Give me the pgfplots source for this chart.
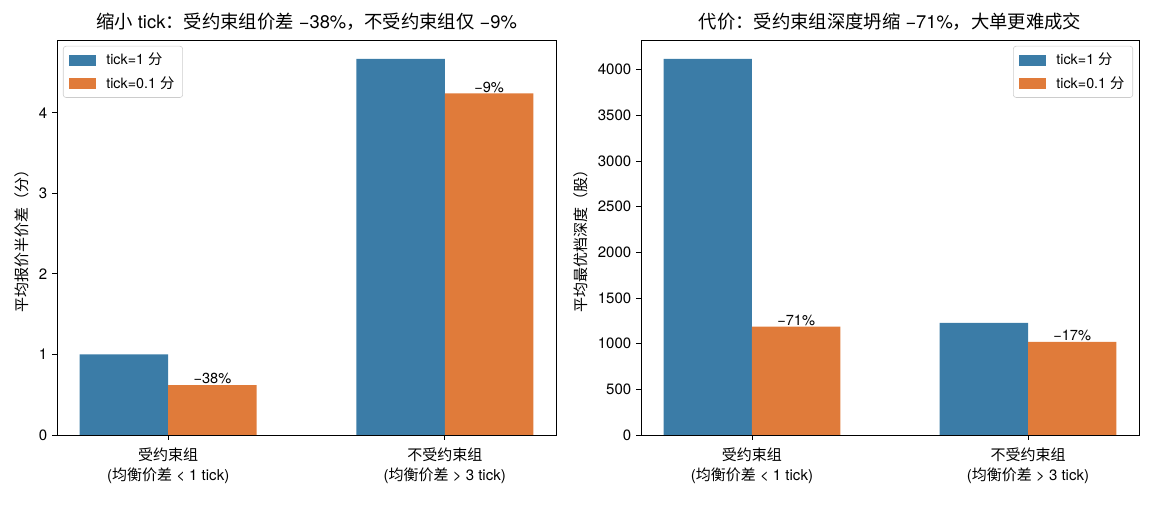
\documentclass[border=0pt]{standalone}
\usepackage{fontspec}
\setmainfont{TeX Gyre Heros}
\newfontfamily\cjk{Noto Sans CJK SC}
\usepackage{pgfplots}
\pgfplotsset{compat=1.18}
\definecolor{cblue}{HTML}{3B7CA7}
\definecolor{corange}{HTML}{E07B3A}
\pgfplotsset{
  common/.style={
    scale only axis, anchor=south west,
    height=284.4pt,
    xmin=-0.402, xmax=1.402, ymin=0,
    xtick={0,1},
    xticklabels={{{\cjk 受约束组}\\({\cjk 均衡价差} < 1 tick)},{{\cjk 不受约束组}\\({\cjk 均衡价差} > 3 tick)}},
    xticklabel style={align=center, font=\fontsize{10.8}{14.4}\selectfont, yshift=-2pt},
    yticklabel style={font=\fontsize{10.8}{12}\selectfont},
    /pgf/number format/assume math mode=true,
    /pgf/number format/1000 sep={},
    scaled y ticks=false,
    tick align=outside, xtick pos=lower, ytick pos=left,
    major tick length=3.5pt,
    every tick/.style={black, line width=0.65pt},
    axis line style={line width=0.65pt},
    title style={font=\fontsize{13.2}{15}\selectfont, yshift=-3pt},
    ylabel style={font=\fontsize{10.8}{12}\selectfont},
    legend style={draw=black!20, rounded corners=2pt, fill=white, font=\fontsize{10.3}{12}\selectfont,
      row sep=3pt, inner xsep=4pt, inner ysep=3pt, cells={anchor=west}},
    legend image code/.code={\fill[##1, sharp corners] (0pt,-4pt) rectangle (19.4pt,4pt); \path (25pt,0pt);},
    nodes near coords style={font=\fontsize{10.5}{12}\selectfont, anchor=south, inner sep=0.5pt, text=black},
  },
  bblue/.style={ybar, bar width=0.32, bar shift=0pt, fill=cblue, draw=none},
  borange/.style={ybar, bar width=0.32, bar shift=0pt, fill=corange, draw=none,
    nodes near coords, point meta=explicit symbolic},
}
\begin{document}
\begin{tikzpicture}
\useasboundingbox (0,0) rectangle (831.6pt,363.6pt);
\begin{axis}[common, at={(41.04pt,50.4pt)}, width=359.28pt,
  ymax=4.9035, ytick={0,1,2,3,4},
  title={{\cjk 缩小} tick{\cjk ：受约束组价差} −38\%{\cjk ，不受约束组仅} −9\%},
  ylabel={{\cjk 平均报价半价差（分）}},
  legend style={at={(0.012,0.985)}, anchor=north west}]
\addplot[bblue] coordinates {(-0.16,1.0) (0.84,4.67)};
\addlegendentry{tick=1 {\cjk 分}}
\addplot[borange] coordinates {(0.16,0.62)[−38\%] (1.16,4.24)[−9\%]};
\addlegendentry{tick=0.1 {\cjk 分}}
\end{axis}
\begin{axis}[common, at={(461.52pt,50.4pt)}, width=358.56pt,
  ymax=4326, ytick={0,500,...,4000},
  title={{\cjk 代价：受约束组深度坍缩} −71\%{\cjk ，大单更难成交}},
  ylabel={{\cjk 平均最优档深度（股）}},
  legend style={at={(0.988,0.985)}, anchor=north east}]
\addplot[bblue] coordinates {(-0.16,4120) (0.84,1227)};
\addlegendentry{tick=1 {\cjk 分}}
\addplot[borange] coordinates {(0.16,1188)[−71\%] (1.16,1019)[−17\%]};
\addlegendentry{tick=0.1 {\cjk 分}}
\end{axis}
\end{tikzpicture}
\end{document}
